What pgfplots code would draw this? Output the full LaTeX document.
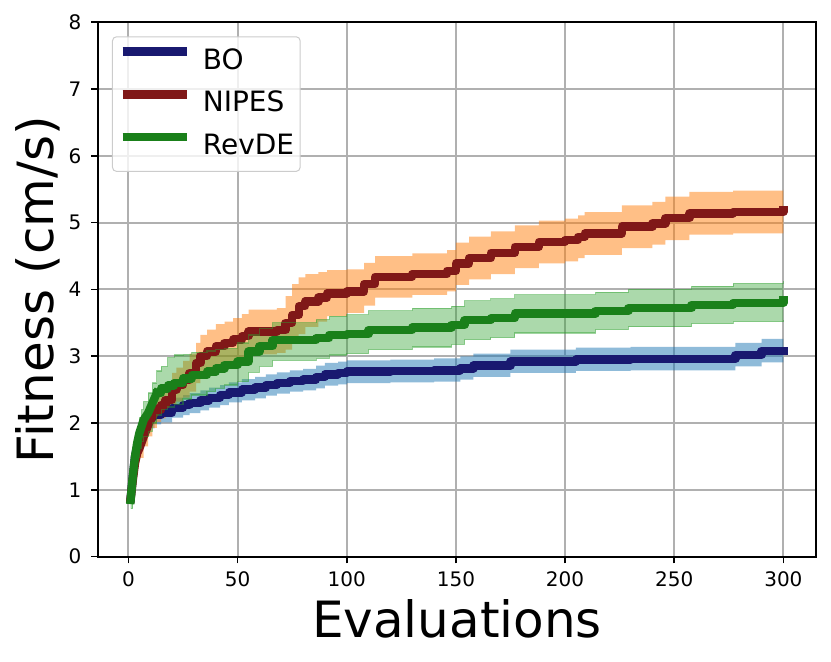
\documentclass[border=0pt]{standalone}
\usepackage{pgfplots}
\pgfplotsset{compat=1.18}
\usepgfplotslibrary{fillbetween}
\usepackage{pgfplotstable}
\usepackage{fontspec}
\setmainfont{DejaVu Sans}

\definecolor{bocol}{HTML}{191970}
\definecolor{nipescol}{HTML}{801818}
\definecolor{revcol}{HTML}{1A801A}
\definecolor{bofill}{HTML}{1F77B4}
\definecolor{nipesfill}{HTML}{FF7F0E}
\definecolor{revfill}{HTML}{2CA02C}
\definecolor{gridgray}{HTML}{B0B0B0}

\pgfplotstableread{
x m lo hi
1 0.87 0.80 0.95
2 1.20 1.10 1.30
3 1.50 1.40 1.60
4 1.65 1.55 1.75
5 1.75 1.65 1.87
6 1.85 1.73 1.97
8 1.97 1.85 2.09
10 2.05 1.92 2.18
12 2.12 1.98 2.26
15 2.16 2.01 2.31
20 2.23 2.08 2.38
25 2.27 2.12 2.42
28 2.30 2.15 2.45
33 2.34 2.19 2.49
37 2.38 2.23 2.53
42 2.42 2.27 2.57
46 2.46 2.31 2.61
52 2.50 2.34 2.66
58 2.53 2.37 2.69
63 2.57 2.41 2.73
68 2.60 2.44 2.76
74 2.63 2.47 2.79
80 2.65 2.49 2.81
86 2.69 2.52 2.86
90 2.73 2.56 2.90
96 2.75 2.58 2.92
100 2.77 2.60 2.94
120 2.78 2.61 2.95
140 2.79 2.62 2.97
152 2.82 2.65 3.00
158 2.86 2.69 3.04
175 2.92 2.75 3.10
205 2.95 2.78 3.13
230 2.96 2.79 3.14
278 3.02 2.85 3.20
290 3.08 2.91 3.26
300 3.08 2.91 3.26
}\bodata

\pgfplotstableread{
x m lo hi
1 0.87 0.80 0.95
2 1.15 1.05 1.25
3 1.40 1.28 1.52
4 1.55 1.42 1.68
5 1.62 1.48 1.77
7 1.80 1.65 1.96
9 1.97 1.80 2.14
11 2.10 1.93 2.28
13 2.20 2.02 2.40
15 2.27 2.07 2.48
17 2.35 2.13 2.58
20 2.50 2.26 2.75
22 2.57 2.32 2.83
25 2.65 2.38 2.93
28 2.75 2.47 3.04
31 2.90 2.60 3.20
33 3.00 2.68 3.32
36 3.07 2.75 3.40
40 3.15 2.82 3.48
44 3.20 2.87 3.52
48 3.25 2.92 3.57
52 3.30 2.96 3.63
55 3.37 3.03 3.70
68 3.39 3.05 3.72
72 3.50 3.10 3.90
75 3.62 3.20 4.08
78 3.75 3.33 4.18
81 3.82 3.44 4.23
87 3.88 3.52 4.26
91 3.94 3.60 4.29
100 3.97 3.65 4.30
108 4.08 3.76 4.40
113 4.19 3.88 4.50
130 4.23 3.92 4.54
146 4.28 3.97 4.59
150 4.39 4.07 4.70
156 4.47 4.15 4.79
166 4.55 4.23 4.87
177 4.64 4.32 4.96
188 4.71 4.39 5.03
200 4.74 4.42 5.06
206 4.79 4.47 5.11
209 4.84 4.52 5.16
226 4.94 4.62 5.26
240 4.99 4.67 5.31
246 5.07 4.74 5.39
257 5.14 4.82 5.46
277 5.16 4.84 5.48
300 5.19 4.86 5.50
}\nipesdata

\pgfplotstableread{
x m lo hi
1 0.85 0.72 0.98
2 1.20 1.02 1.38
3 1.50 1.30 1.70
4 1.70 1.48 1.92
5 1.85 1.62 2.08
6 1.95 1.72 2.20
7 2.05 1.80 2.32
9 2.15 1.88 2.45
11 2.30 2.00 2.60
13 2.45 2.12 2.78
15 2.52 2.20 2.85
18 2.56 2.24 2.98
21 2.60 2.28 3.02
25 2.67 2.36 3.03
29 2.72 2.42 3.06
36 2.77 2.47 3.08
40 2.82 2.52 3.10
44 2.87 2.57 3.12
50 2.92 2.62 3.20
55 3.07 2.76 3.32
60 3.15 2.85 3.42
66 3.24 2.94 3.50
86 3.27 2.97 3.55
92 3.32 3.02 3.60
100 3.33 3.04 3.62
110 3.39 3.10 3.68
130 3.43 3.14 3.72
148 3.47 3.18 3.75
154 3.54 3.25 3.83
166 3.57 3.28 3.86
177 3.64 3.35 3.92
214 3.68 3.40 3.96
229 3.72 3.44 4.00
258 3.77 3.49 4.05
277 3.80 3.52 4.09
300 3.84 3.55 4.12
}\revdata

\begin{document}
\begin{tikzpicture}
\begin{axis}[
  scale only axis,
  width=359pt, height=267.2pt,
  xmin=-13.95, xmax=314.95,
  ymin=0, ymax=8,
  xtick={0,50,100,150,200,250,300},
  ytick={0,1,2,3,4,5,6,7,8},
  xtick pos=bottom, ytick pos=left,
  tick align=outside,
  major tick length=3.3pt,
  every tick/.style={black, line width=0.8pt},
  axis line style={black, line width=1pt},
  grid=major,
  major grid style={gridgray, line width=1pt},
  /pgf/number format/assume math mode=true,
  ticklabel style={font=\fontsize{10}{12}\selectfont},
  xticklabel style={inner sep=0pt, anchor=north, yshift=-4pt},
  yticklabel style={inner sep=0pt, anchor=east, xshift=-4.8pt},
  xlabel={Evaluations},
  ylabel={Fitness (cm/s)},
  label style={font=\fontsize{25}{30}\selectfont},
  xlabel style={at={(axis description cs:0.5,-0.1508)}, anchor=base, inner sep=0pt},
  ylabel style={at={(axis description cs:-0.0623,0.5)}, anchor=base, rotate=0, inner sep=0pt},
  legend cell align=left,
  legend style={at={(0,1)}, anchor=north west, xshift=7pt, yshift=-7pt,
    font=\fontsize{14}{16}\selectfont,
    draw=black!20, line width=0.5pt, rounded corners=2pt,
    fill=white, fill opacity=0.8, text opacity=1,
    inner xsep=3pt, inner ysep=5.35pt, row sep=7.6pt, column sep=6pt,
    nodes={inner sep=0pt, text height=10.2pt, text depth=3pt}},
  legend image code/.code={\draw[line width=4.2pt, line cap=butt] (0pt,5.1pt) -- (32pt,5.1pt);},
]
% BO
\addplot[name path=bohi, draw=none, const plot, forget plot] table[x=x,y=hi]{\bodata};
\addplot[name path=bolo, draw=none, const plot, forget plot] table[x=x,y=lo]{\bodata};
\addplot[fill=bofill, fill opacity=0.5, draw=none, forget plot] fill between[of=bohi and bolo];
\addplot[sharp plot, bocol, line width=4.2pt, line join=round, line cap=rect, forget plot, restrict x to domain=0:12] table[x=x,y=m]{\bodata};
\addplot[const plot, bocol, line width=4.2pt, line join=round, line cap=rect, restrict x to domain=12:300] table[x=x,y=m]{\bodata};
\addlegendentry{BO}
% NIPES
\addplot[name path=nphi, draw=none, const plot, forget plot] table[x=x,y=hi]{\nipesdata};
\addplot[name path=nplo, draw=none, const plot, forget plot] table[x=x,y=lo]{\nipesdata};
\addplot[fill=nipesfill, fill opacity=0.5, draw=none, forget plot] fill between[of=nphi and nplo];
\addplot[sharp plot, nipescol, line width=4.2pt, line join=round, line cap=rect, forget plot, restrict x to domain=0:13] table[x=x,y=m]{\nipesdata};
\addplot[const plot, nipescol, line width=4.2pt, line join=round, line cap=rect, restrict x to domain=13:300] table[x=x,y=m]{\nipesdata};
\addlegendentry{NIPES}
% RevDE
\addplot[name path=rvhi, draw=revfill, draw opacity=0.45, line width=0.6pt, const plot, forget plot] table[x=x,y=hi]{\revdata};
\addplot[name path=rvlo, draw=revfill, draw opacity=0.45, line width=0.6pt, const plot, forget plot] table[x=x,y=lo]{\revdata};
\addplot[fill=revfill, fill opacity=0.4, draw=none, forget plot] fill between[of=rvhi and rvlo];
\addplot[sharp plot, revcol, line width=4.2pt, line join=round, line cap=rect, forget plot, restrict x to domain=0:13] table[x=x,y=m]{\revdata};
\addplot[const plot, revcol, line width=4.2pt, line join=round, line cap=rect, restrict x to domain=13:300] table[x=x,y=m]{\revdata};
\addlegendentry{RevDE}
\end{axis}
\pgfresetboundingbox
\path[use as bounding box] (-49pt,-52.65pt) rectangle (366.5pt,278.35pt);
\end{tikzpicture}
\end{document}
